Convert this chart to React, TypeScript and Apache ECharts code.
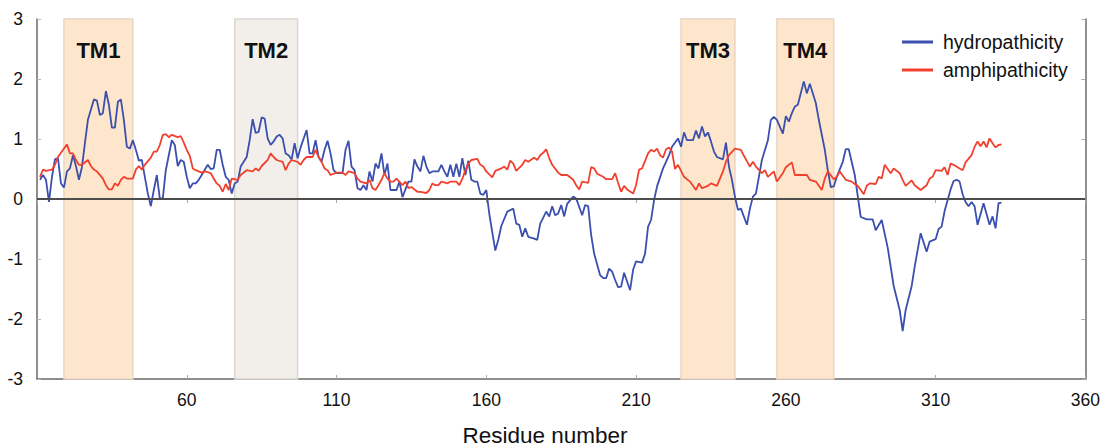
import React, { useEffect, useRef } from "react";
import * as echarts from "echarts";

const FONT = '"Liberation Sans", Arial, Helvetica, sans-serif';

// x axis
const xMin = 10;
const xMax = 360;
const xStep = 50;
// y axis
const yMin = -3;
const yMax = 3;
const yStep = 1;

// transmembrane segments
const tmNames = ["TM1", "TM2", "TM3", "TM4"];
const tmStart = [19, 76, 225, 257];
const tmEnd = [42, 97, 243, 276];
const tmColors = ["#fde6cb", "#f2efeb", "#fde6cb", "#fde6cb"];
const tmBorders = ["#e8d6c2", "#dcd6cf", "#e8d6c2", "#e8d6c2"];

const seriesNames = ["hydropathicity", "amphipathicity"];

// [residue, value]
const hydropathicity: [number, number][] = [
  [11,0.32],[12,0.40],[13,0.32],[14,-0.05],[15,0.37],[16,0.66],[17,0.68],[18,0.26],[19,0.19],[20,0.46],
  [21,0.51],[22,0.73],[23,0.55],[24,0.32],[25,0.53],[26,0.93],[27,1.32],[29,1.66],[30,1.64],[31,1.40],
  [32,1.43],[33,1.80],[34,1.57],[35,1.19],[36,1.19],[37,1.62],[38,1.66],[39,1.32],[40,0.87],[41,0.84],
  [42,0.98],[43,0.82],[44,0.64],[45,0.65],[46,0.37],[47,0.09],[48,-0.12],[49,0.15],[50,0.40],[51,0.01],
  [52,0.01],[53,0.48],[55,0.98],[56,0.90],[57,0.55],[58,0.65],[59,0.62],[60,0.37],[61,0.18],[62,0.26],
  [63,0.26],[64,0.32],[65,0.40],[67,0.57],[68,0.50],[69,0.51],[70,0.82],[71,0.82],[72,0.57],[73,0.37],
  [74,0.32],[75,0.09],[76,0.26],[77,0.29],[78,0.54],[80,0.70],[81,0.98],[82,1.33],[83,1.10],[84,1.12],
  [85,1.36],[86,1.34],[87,1.01],[88,0.90],[89,0.96],[90,1.04],[91,1.07],[92,1.01],[93,0.76],[94,0.73],
  [95,0.66],[96,0.93],[97,0.68],[98,0.86],[100,1.15],[101,0.76],[102,0.76],[103,0.98],[104,0.70],[105,0.62],
  [106,0.82],[107,0.97],[108,0.76],[109,0.48],[110,0.43],[112,0.43],[113,0.82],[114,0.97],[115,0.54],[116,0.48],
  [117,0.18],[118,0.15],[119,0.23],[120,0.15],[121,0.46],[122,0.29],[123,0.59],[124,0.51],[125,0.76],[126,0.40],
  [127,0.59],[128,0.15],[129,0.15],[130,0.15],[131,0.29],[132,0.03],[133,0.16],[134,0.29],[135,0.29],[136,0.66],
  [137,0.54],[138,0.46],[139,0.72],[140,0.54],[141,0.43],[142,0.46],[144,0.46],[145,0.57],[146,0.46],[147,0.37],
  [148,0.57],[149,0.37],[150,0.59],[151,0.37],[152,0.68],[153,0.40],[154,0.64],[155,0.32],[156,0.29],[157,0.29],
  [158,0.09],[159,0.07],[160,0.15],[161,-0.25],[163,-0.86],[164,-0.68],[165,-0.45],[167,-0.21],[169,-0.16],[170,-0.41],
  [171,-0.43],[172,-0.63],[173,-0.49],[174,-0.63],[176,-0.66],[177,-0.68],[178,-0.41],[180,-0.21],[181,-0.29],[182,-0.12],
  [183,-0.27],[184,-0.24],[185,-0.10],[186,-0.29],[187,-0.08],[189,0.04],[190,0.01],[191,-0.13],[192,-0.27],[193,-0.10],
  [194,-0.12],[195,-0.60],[196,-0.91],[198,-1.27],[199,-1.32],[200,-1.32],[201,-1.16],[202,-1.21],[203,-1.35],[204,-1.47],
  [205,-1.46],[206,-1.23],[208,-1.52],[209,-1.18],[210,-1.04],[212,-1.06],[213,-0.91],[214,-0.46],[215,-0.35],[216,-0.02],
  [217,0.21],[219,0.51],[220,0.62],[221,0.73],[222,0.87],[224,1.01],[225,0.87],[226,1.11],[227,0.98],[229,0.98],
  [230,1.14],[231,1.01],[232,1.21],[233,1.04],[234,1.11],[235,0.96],[236,0.79],[237,0.70],[239,0.66],[240,0.94],
  [241,0.54],[242,0.32],[243,0.04],[244,-0.18],[245,-0.16],[247,-0.43],[248,-0.16],[249,0.04],[250,0.09],[251,0.37],
  [252,0.65],[254,0.98],[255,1.32],[256,1.37],[257,1.32],[259,1.09],[260,1.38],[261,1.29],[262,1.43],[263,1.54],
  [264,1.57],[266,1.96],[267,1.76],[268,1.92],[270,1.60],[271,1.32],[273,0.82],[274,0.48],[275,0.20],[276,0.21],
  [277,0.37],[279,0.62],[280,0.83],[281,0.83],[283,0.40],[285,-0.30],[287,-0.34],[289,-0.34],[290,-0.52],[292,-0.35],
  [294,-0.81],[296,-1.45],[298,-1.85],[299,-2.20],[300,-1.85],[302,-1.45],[303,-1.13],[305,-0.57],[307,-0.88],[308,-0.71],
  [310,-0.67],[311,-0.50],[312,-0.46],[313,-0.20],[315,0.16],[316,0.30],[317,0.32],[318,0.29],[319,0.08],[320,-0.05],
  [321,-0.12],[322,-0.05],[323,-0.12],[324,-0.43],[326,-0.07],[328,-0.43],[329,-0.29],[330,-0.49],[331,-0.07],[332,-0.06],
];

const amphipathicity: [number, number][] = [
  [11,0.37],[12,0.49],[13,0.47],[15,0.49],[16,0.57],[17,0.70],[19,0.84],[20,0.91],[21,0.76],[22,0.76],
  [23,0.65],[24,0.57],[25,0.57],[27,0.65],[28,0.55],[29,0.49],[30,0.46],[32,0.34],[33,0.23],[34,0.16],
  [35,0.16],[36,0.26],[37,0.22],[38,0.32],[39,0.37],[40,0.34],[42,0.34],[43,0.49],[44,0.55],[45,0.49],
  [46,0.57],[48,0.69],[49,0.79],[50,0.79],[51,0.90],[52,1.07],[53,1.08],[54,1.03],[55,1.07],[57,1.03],
  [58,1.05],[59,0.94],[60,0.82],[61,0.72],[62,0.51],[63,0.48],[65,0.44],[66,0.46],[68,0.43],[69,0.34],
  [70,0.26],[71,0.22],[72,0.12],[73,0.25],[74,0.15],[75,0.34],[77,0.32],[78,0.40],[80,0.48],[82,0.46],
  [83,0.51],[84,0.47],[85,0.55],[87,0.65],[88,0.76],[89,0.70],[90,0.65],[92,0.62],[93,0.48],[94,0.59],
  [95,0.65],[97,0.62],[98,0.57],[99,0.65],[100,0.70],[102,0.70],[103,0.82],[104,0.70],[105,0.62],[106,0.51],
  [107,0.48],[108,0.40],[110,0.44],[112,0.44],[113,0.40],[114,0.46],[116,0.43],[117,0.34],[118,0.29],[120,0.26],
  [121,0.32],[122,0.18],[123,0.15],[124,0.23],[125,0.32],[126,0.43],[127,0.34],[128,0.29],[129,0.29],[130,0.34],
  [132,0.23],[133,0.29],[134,0.18],[135,0.20],[137,0.12],[138,0.12],[140,0.10],[141,0.15],[142,0.26],[143,0.23],
  [144,0.23],[145,0.29],[147,0.26],[148,0.29],[150,0.29],[151,0.23],[152,0.34],[153,0.48],[154,0.59],[155,0.65],
  [157,0.67],[158,0.57],[159,0.54],[160,0.46],[162,0.36],[163,0.47],[165,0.51],[166,0.54],[167,0.49],[168,0.64],
  [169,0.59],[170,0.47],[172,0.57],[173,0.65],[174,0.62],[176,0.69],[177,0.65],[178,0.73],[179,0.77],[180,0.83],
  [181,0.68],[182,0.57],[184,0.44],[185,0.40],[187,0.40],[189,0.32],[190,0.23],[191,0.16],[192,0.29],[194,0.27],
  [195,0.53],[196,0.51],[197,0.42],[199,0.37],[200,0.33],[202,0.33],[203,0.43],[204,0.27],[205,0.12],[206,0.22],
  [207,0.16],[209,0.09],[210,0.23],[211,0.49],[212,0.51],[214,0.76],[215,0.82],[216,0.79],[217,0.84],[218,0.73],
  [219,0.69],[220,0.83],[221,0.86],[222,0.79],[223,0.50],[224,0.57],[226,0.37],[228,0.29],[230,0.15],[231,0.26],
  [232,0.18],[234,0.22],[235,0.26],[237,0.22],[239,0.46],[240,0.62],[241,0.73],[243,0.84],[245,0.82],[246,0.72],
  [248,0.54],[249,0.62],[250,0.54],[252,0.43],[253,0.48],[254,0.37],[256,0.46],[257,0.29],[259,0.43],[260,0.53],
  [262,0.61],[263,0.40],[265,0.40],[267,0.40],[268,0.32],[270,0.29],[272,0.15],[273,0.34],[274,0.46],[276,0.33],
  [277,0.37],[278,0.46],[280,0.32],[282,0.29],[283,0.25],[284,0.22],[286,0.08],[287,0.22],[288,0.26],[290,0.25],
  [291,0.37],[292,0.34],[293,0.57],[295,0.43],[296,0.51],[298,0.43],[299,0.32],[300,0.22],[302,0.31],[303,0.23],
  [305,0.15],[307,0.23],[308,0.34],[309,0.37],[310,0.48],[312,0.47],[313,0.53],[314,0.40],[315,0.59],[316,0.57],
  [318,0.51],[319,0.48],[320,0.61],[322,0.73],[323,0.87],[324,0.96],[325,0.88],[326,0.96],[327,0.86],[328,1.01],
  [329,0.93],[330,0.86],[331,0.90],[332,0.91],
];

const BLUE = "#3b4fae";
const RED = "#f2402f";
const AXIS = "#6a6a6a";

export default function App() {
  const ref = useRef<HTMLDivElement>(null);

  useEffect(() => {
    if (!ref.current) return;
    const chart = echarts.init(ref.current, undefined, { renderer: "svg" });

    const bandData = tmNames.map((name, i) => [
      {
        name,
        xAxis: tmStart[i],
        itemStyle: { color: tmColors[i], borderColor: tmBorders[i], borderWidth: 1.5 },
      },
      { xAxis: tmEnd[i] },
    ]);

    const valueLabel = { fontFamily: FONT, fontSize: 17.5, color: "#111" };

    chart.setOption({
      animation: false,
      backgroundColor: "#ffffff",
      grid: { left: 37, right: 17, top: 19, bottom: 69, containLabel: false },
      xAxis: [
        {
          type: "value",
          min: xMin,
          max: xMax,
          interval: xStep,
          axisLine: { onZero: false, lineStyle: { color: AXIS, width: 1.5 } },
          axisTick: { inside: true, length: 4, lineStyle: { color: "#aaa" } },
          axisLabel: { ...valueLabel, margin: 12, showMinLabel: false },
          splitLine: { show: false },
        },
        {
          type: "value",
          position: "top",
          min: xMin,
          max: xMax,
          interval: xStep,
          axisLine: { show: true, lineStyle: { color: "#9a9a9a", width: 1 } },
          axisTick: { show: true, inside: true, length: 4, lineStyle: { color: "#aaa" } },
          axisLabel: { show: false },
          splitLine: { show: false },
        },
      ],
      yAxis: [
        {
          type: "value",
          min: yMin,
          max: yMax,
          interval: yStep,
          axisLine: { show: true, onZero: false, lineStyle: { color: AXIS, width: 1.5 } },
          axisTick: { show: true, inside: true, length: 4, lineStyle: { color: "#bbb" } },
          axisLabel: { ...valueLabel, margin: 14 },
          splitLine: { show: false },
        },
        {
          type: "value",
          position: "right",
          min: yMin,
          max: yMax,
          interval: yStep,
          axisLine: { show: true, onZero: false, lineStyle: { color: AXIS, width: 1.5 } },
          axisTick: { show: true, inside: true, length: 4, lineStyle: { color: "#aaa" } },
          axisLabel: { show: false },
          splitLine: { show: false },
        },
      ],
      legend: {
        data: seriesNames,
        orient: "vertical",
        left: 902,
        top: 32,
        padding: 0,
        itemGap: 8,
        itemWidth: 31,
        itemHeight: 3,
        icon: "rect",
        textStyle: { fontFamily: FONT, fontSize: 19.5, color: "#111", padding: [0, 0, 0, 5] },
      },
      graphic: [
        {
          type: "text",
          x: 545,
          y: 435,
          style: {
            text: "Residue number",
            align: "center",
            verticalAlign: "middle",
            fontFamily: FONT,
            fontSize: 22.5,
            fill: "#111",
          },
        },
      ],
      series: [
        {
          name: "bands",
          type: "line",
          data: [],
          z: 1,
          silent: true,
          markArea: {
            silent: true,
            label: {
              show: true,
              position: "insideTop",
              distance: 21,
              fontFamily: FONT,
              fontSize: 22,
              fontWeight: "bold",
              color: "#111",
            },
            data: bandData,
          },
        },
        {
          name: "zero",
          type: "line",
          data: [],
          z: 2,
          silent: true,
          markLine: {
            silent: true,
            symbol: ["none", "none"],
            label: { show: false },
            lineStyle: { color: "#4d4d4d", width: 2, type: "solid" },
            data: [{ yAxis: 0 }],
          },
        },
        {
          name: seriesNames[0],
          type: "line",
          data: hydropathicity,
          z: 3,
          showSymbol: false,
          color: BLUE,
          lineStyle: { color: BLUE, width: 1.8 },
        },
        {
          name: seriesNames[1],
          type: "line",
          data: amphipathicity,
          z: 4,
          showSymbol: false,
          color: RED,
          lineStyle: { color: RED, width: 1.8 },
        },
      ],
    });

    return () => chart.dispose();
  }, []);

  return (
    <div
      ref={ref}
      style={{ position: "fixed", left: 0, top: 0, width: 1103, height: 448, background: "#fff" }}
    />
  );
}
